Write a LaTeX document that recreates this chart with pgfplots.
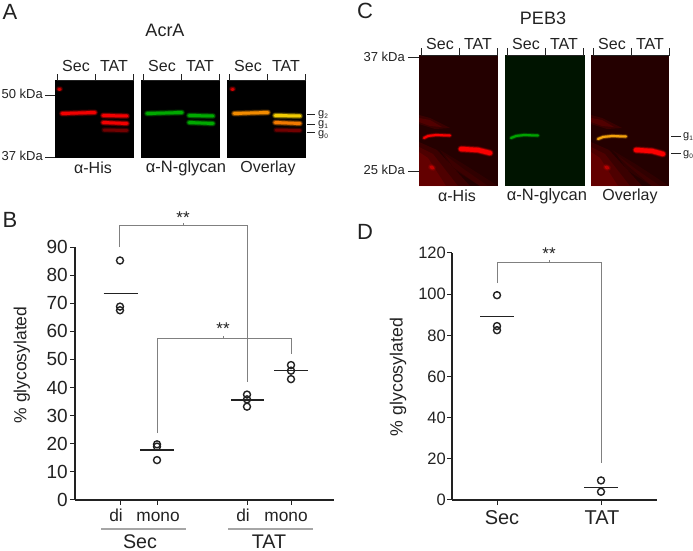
\documentclass[border=0pt]{standalone}
\usepackage{pgfplots}
\usepackage{fontspec}
\setmainfont{Liberation Sans}
\pgfplotsset{compat=1.18}
\definecolor{ink}{HTML}{222222}
\definecolor{brk}{HTML}{808080}
\newcommand{\fs}[1]{\fontsize{#1}{#1}\selectfont}
% soft band: colour, peak opacity, coordinates
\newcommand{\band}[3]{%
 \addplot[draw=#1,line width=6.4pt,opacity=0.16*#2,line cap=round] coordinates {#3};
 \addplot[draw=#1,line width=4.8pt,opacity=0.4*#2,line cap=round] coordinates {#3};
 \addplot[draw=#1,line width=3pt,opacity=0.9*#2,line cap=round] coordinates {#3};
}
\newcommand{\bandthin}[3]{%
 \addplot[draw=#1,line width=4.6pt,opacity=0.16*#2,line cap=round] coordinates {#3};
 \addplot[draw=#1,line width=3.2pt,opacity=0.4*#2,line cap=round] coordinates {#3};
 \addplot[draw=#1,line width=2pt,opacity=0.95*#2,line cap=round] coordinates {#3};
}
\newcommand{\bandthick}[3]{%
 \addplot[draw=#1,line width=7.6pt,opacity=0.16*#2,line cap=round] coordinates {#3};
 \addplot[draw=#1,line width=6pt,opacity=0.45*#2,line cap=round] coordinates {#3};
 \addplot[draw=#1,line width=4.4pt,opacity=0.95*#2,line cap=round] coordinates {#3};
}
\newcommand{\panel}[5]{\addplot[fill=#5,draw=none] coordinates {(#1,#2)(#3,#2)(#3,#4)(#1,#4)} --cycle;}
\newcommand{\haze}[2]{\addplot[fill=red,draw=none,opacity=#1] coordinates {#2} --cycle;}
\newcommand{\brk}[1]{\addplot[draw=brk,line width=0.9pt] coordinates {#1};}
\newcommand{\blk}[1]{\addplot[draw=ink,line width=0.9pt] coordinates {#1};}
\newcommand{\txt}[4]{\node[text=ink,inner sep=0pt,#4] at (axis cs:#1,#2) {#3};}
\pgfplotsset{dots/.style={only marks,mark=o,mark size=3.5pt,mark options={draw=ink,fill=white,line width=1.4pt}},
 mean/.style={draw=ink,line width=1.3pt},
 panelaxis/.style={scale only axis,axis x line=bottom,axis y line=left,axis line style={-,draw=ink,line width=1.2pt},
  tick style={draw=ink,line width=1pt},major tick length=5pt,tick align=outside,ymin=0,
  /pgf/number format/assume math mode=true,xtick pos=bottom,ytick pos=left,clip=false}}
\begin{document}
\begin{tikzpicture}[x=1pt,y=1pt]
\useasboundingbox (0,0) rectangle (693,551);
% Panel B
\begin{axis}[panelaxis,at={(75pt,51pt)},anchor=south west,width=259pt,height=253pt,
  xmin=75,xmax=334,ymax=90,ytick={0,10,...,90},
  xtick={120,157,247,291},
  xticklabels={\hspace*{-8pt}di,\hspace*{2pt}mono,\hspace*{-8pt}di,\hspace*{-10pt}mono},
  xticklabel style={font=\fs{17.3},text=ink,inner sep=0pt,yshift=-4pt,anchor=north,text height=12.5pt,text depth=0pt},
  yticklabel style={font=\fs{19},text=ink,inner sep=0pt,xshift=-2pt},
  ylabel={\% glycosylated},ylabel style={at={(axis description cs:-0.205,0.534)},anchor=center,font=\fs{17.5},text=ink}]
\addplot[dots] coordinates {(120,85.2)(120,68.8)(120,67.5)};
\addplot[dots] coordinates {(157,19.8)(157,19)(157,14.2)};
\addplot[dots] coordinates {(247,37.5)(247,35.8)(247,33.2)};
\addplot[dots] coordinates {(291,48)(291,46)(291,43)};
\addplot[mean] coordinates {(103.5,73.5)(137.5,73.5)};
\addplot[mean] coordinates {(140,17.8)(174,17.8)};
\addplot[mean] coordinates {(231,35.6)(264,35.6)};
\addplot[mean] coordinates {(274,46)(308,46)};
\end{axis}
% Panel D
\begin{axis}[panelaxis,at={(452pt,51pt)},anchor=south west,width=205pt,height=247pt,
  xmin=452,xmax=657,ymax=120,ytick={0,20,...,120},
  xtick={497,601},xticklabels={\hspace*{10pt}Sec,\hspace*{2pt}TAT},
  xticklabel style={font=\fs{20},text=ink,inner sep=0pt,yshift=-5pt,anchor=north,text height=14.5pt,text depth=0pt},
  yticklabel style={font=\fs{16.5},text=ink,inner sep=0pt,xshift=-1pt},
  ylabel={\% glycosylated},ylabel style={at={(axis description cs:-0.263,0.498)},anchor=center,font=\fs{17.7},text=ink}]
\addplot[dots] coordinates {(497,99.5)(497,84.5)(497,82.5)};
\addplot[dots] coordinates {(601,9.5)(601,4)};
\addplot[mean] coordinates {(480,89)(514,89)};
\addplot[mean] coordinates {(584,6)(618,6)};
\end{axis}
% Blots, brackets and labels, in the picture's pixel coordinates
\begin{axis}[at={(0pt,0pt)},anchor=south west,scale only axis,width=693pt,height=551pt,
  xmin=0,xmax=693,ymin=0,ymax=551,y dir=reverse,hide axis,clip=false]
% --- A panels
\panel{55}{80}{134}{158}{black}
\panel{141}{80}{220}{158}{black}
\panel{227}{80}{306}{158}{black}
\band{red}{1}{(62,113.5)(78,113)(95,112.5)}
\band{red}{1}{(103,115.5)(127,116)}
\band{red}{1}{(103,122.5)(127,123.5)}
\band{red}{0.35}{(104,130)(127,130.5)}
\band{red}{0.8}{(59,89)(60,89)}
\band{green!70!black}{1}{(147,113.5)(165,113)(182,112.5)}
\band{green!70!black}{1}{(189,115.5)(213,116)}
\band{green!70!black}{1}{(189,122.5)(213,123.5)}
\band{orange!85!yellow}{1}{(234,113.5)(250,113)(268,112.5)}
\band{yellow!75!orange}{1}{(275,115.5)(300,116)}
\band{orange}{1}{(275,122.5)(300,123.5)}
\band{red}{0.35}{(276,130)(300,130.5)}
\band{red}{0.8}{(232,89)(233,89)}
\blk{(57,74)(57,80)(133,80)(133,74)}
\blk{(95,74)(95,80)}
\blk{(143,74)(143,80)(219,80)(219,74)}
\blk{(181,74)(181,80)}
\blk{(229,74)(229,80)(305,80)(305,74)}
\blk{(267,74)(267,80)}
\blk{(45,95)(55,95)}
\blk{(45,157)(55,157)}
\blk{(307,114)(315,114)}
\blk{(307,124)(315,124)}
\blk{(307,132)(315,132)}
% --- C panels
\panel{419}{55}{498}{186}{black!86!red}
\panel{505}{55}{585}{186}{black!92!green}
\panel{591}{55}{669}{186}{black!86!red}
\haze{0.10}{(419,115)(430,118)(450,128)(435,129)(419,124)}
\haze{0.12}{(419,118)(430,120)(442,127)(430,126)(419,122)}
\haze{0.10}{(419,142)(437,150)(470,186)(419,186)}
\haze{0.10}{(419,147)(433,154)(458,186)(419,186)}
\haze{0.12}{(419,152)(428,158)(446,186)(419,186)}
\haze{0.06}{(440,150)(465,165)(498,186)(480,186)(450,165)}
\haze{0.06}{(445,155)(465,170)(488,186)(480,186)(455,170)}
\haze{0.10}{(591,115)(602,118)(622,128)(607,129)(591,124)}
\haze{0.12}{(591,118)(602,120)(614,127)(602,126)(591,122)}
\haze{0.10}{(591,142)(609,150)(642,186)(591,186)}
\haze{0.10}{(591,147)(605,154)(630,186)(591,186)}
\haze{0.12}{(591,152)(600,158)(618,186)(591,186)}
\haze{0.06}{(612,150)(637,165)(669,186)(652,186)(627,165)}
\haze{0.06}{(617,155)(637,170)(660,186)(652,186)(627,170)}
\bandthin{red}{1}{(424,138)(428,136)(436,135)(450,135.5)}
\bandthick{red}{1}{(461,149)(478,150)(490,153)}
\band{red}{0.5}{(431,167)(433,168)}
\bandthin{green!65!black}{1}{(511,138)(516,136)(524,135)(538,135.5)}
\bandthin{yellow!30!orange}{1}{(598,139)(603,137)(612,136)(626,136.5)}
\bandthick{red}{1}{(636,150)(652,151)(663,154)}
\band{red}{0.5}{(606,167)(608,168)}
\blk{(421,48)(421,55)(497,55)(497,48)}
\blk{(459,48)(459,55)}
\blk{(507,48)(507,55)(583,55)(583,48)}
\blk{(545,48)(545,55)}
\blk{(593,48)(593,55)(669,55)(669,48)}
\blk{(631,48)(631,55)}
\blk{(408,57)(419,57)}
\blk{(408,171)(419,171)}
\blk{(671,136)(681,136)}
\blk{(671,153)(681,153)}
% --- brackets
\brk{(119,247)(119,225)(247,225)(247,382)}
\brk{(183,225)(183,223)}
\brk{(157,433)(157,338)(291,338)(291,354)}
\brk{(223,338)(223,336)}
\brk{(497,283)(497,262)(601,262)(601,463)}
\brk{(549,262)(549,260)}
\addplot[draw=brk!70,line width=1.2pt] coordinates {(101,529)(186,529)};
\addplot[draw=brk!70,line width=1.2pt] coordinates {(228,529)(313,529)};
% --- text
\txt{10}{12}{\fs{22}A}{}
\txt{365}{11}{\fs{22}C}{}
\txt{10}{220}{\fs{22}B}{}
\txt{365}{232}{\fs{22}D}{}
\txt{165}{30}{\fs{18}AcrA}{}
\txt{543}{18}{\fs{18}PEB3}{}
\foreach \x/\l in {76/Sec,114/TAT,162/Sec,200/TAT,248/Sec,286/TAT,440/Sec,478/TAT,526/Sec,564/TAT,612/Sec,650/TAT}{
 \edef\tmp{\noexpand\txt{\x}{\ifnum\x>400 43.5\else 66\fi}{\noexpand\fs{16}\l}{}}\tmp}
\txt{93}{168}{\fs{16}α-His}{}
\txt{186}{168}{\fs{16.5}α-N-glycan}{}
\txt{268}{168}{\fs{16}Overlay}{}
\txt{457}{196}{\fs{16}α-His}{}
\txt{547}{196}{\fs{16.5}α-N-glycan}{}
\txt{630}{196}{\fs{16}Overlay}{}
\txt{43}{94}{\fs{13}50 kDa}{anchor=east}
\txt{43}{156}{\fs{13}37 kDa}{anchor=east}
\txt{405}{56.5}{\fs{13}37 kDa}{anchor=east}
\txt{405}{170}{\fs{13}25 kDa}{anchor=east}
\txt{318}{115}{\fs{11}g\raisebox{-2pt}{\fs{6.5}2}}{anchor=west}
\txt{318}{125}{\fs{11}g\raisebox{-2pt}{\fs{6.5}1}}{anchor=west}
\txt{318}{135}{\fs{11}g\raisebox{-2pt}{\fs{6.5}0}}{anchor=west}
\txt{683}{137}{\fs{11}g\raisebox{-2pt}{\fs{6.5}1}}{anchor=west}
\txt{683}{155}{\fs{11}g\raisebox{-2pt}{\fs{6.5}0}}{anchor=west}
\txt{183}{218}{\fs{17}**}{}
\txt{223}{329}{\fs{17}**}{}
\txt{549}{254}{\fs{17}**}{}
\txt{140}{541.5}{\fs{19.7}Sec}{}
\txt{269}{541.5}{\fs{19.7}TAT}{}
\end{axis}
\end{tikzpicture}
\end{document}
